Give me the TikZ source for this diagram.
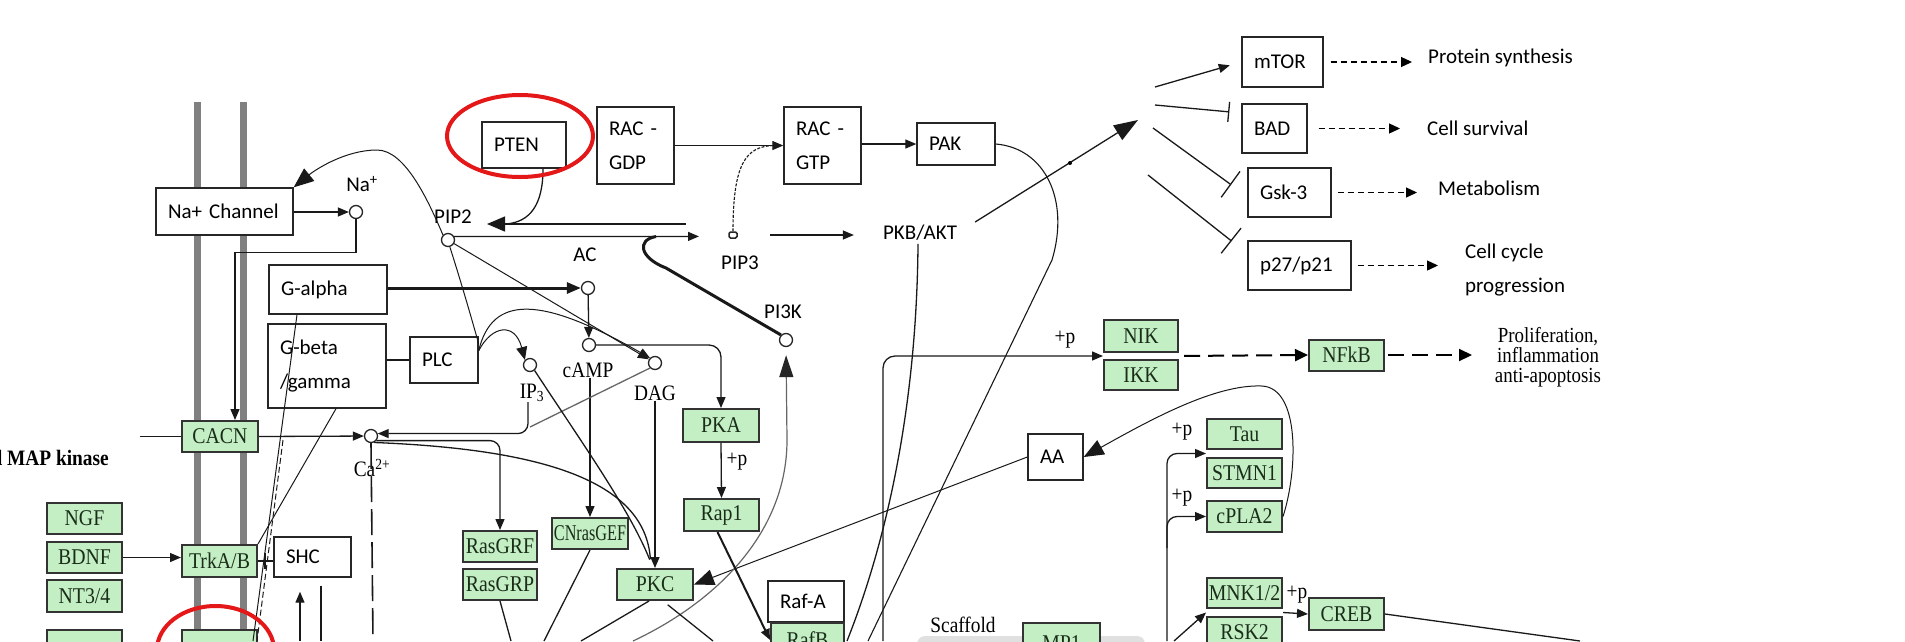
\documentclass[tikz,border=0pt]{standalone}
\usepackage{fontspec}
\usepackage{graphicx}
\usetikzlibrary{arrows.meta,calc}
\newfontfamily\calf{Carlito}
\newfontfamily\keggf[FakeStretch=0.88]{Liberation Serif}
\definecolor{kgreen}{RGB}{196,238,196}
\definecolor{ktext}{RGB}{25,45,25}
\definecolor{membrane}{RGB}{128,128,128}
\definecolor{ring}{RGB}{228,24,24}
\tikzset{
  sansbox/.style={draw=black!85, line width=1.4pt, fill=white,
    font=\calf\fontsize{21}{34}\selectfont,
    inner xsep=12pt, inner ysep=0pt, align=left},
  wb/.style 2 args={sansbox, text width=#1pt, minimum height=#2pt},
  gbox/.style={draw=black!80, line width=2pt, fill=kgreen, text=ktext,
    font=\keggf\fontsize{22.5}{24}\selectfont, inner sep=0pt},
  gb/.style 2 args={gbox, minimum width=#1pt, minimum height=#2pt},
  mol/.style={circle, draw=black!85, line width=1.3pt, fill=white, minimum size=13pt, inner sep=0pt},
  slabel/.style={font=\calf\fontsize{21}{24}\selectfont, inner sep=0pt},
  rlabel/.style={font=\keggf\fontsize{22}{24}\selectfont, inner sep=0pt},
  link/.style={line width=1.3pt, draw=black!90},
  arr/.style={link, -{Triangle[length=11pt,width=9pt]}},
  bigarr/.style={link, -{Triangle[length=18pt,width=15pt]}},
  heavy/.style={line width=3pt},
  darr/.style={line width=1.3pt, dash pattern=on 6pt off 4pt, -{Triangle[length=11pt,width=10pt]}},
  ldarr/.style={line width=2pt, dash pattern=on 16pt off 8pt, -{Triangle[length=13pt,width=12pt]}},
  outtext/.style={font=\calf\fontsize{21}{34}\selectfont, inner sep=0pt, anchor=west, align=left}
}
\begin{document}
\begin{tikzpicture}[x=1pt,y=-1pt]
\useasboundingbox (0,0) rectangle (1905,641);
\fill[white] (0,0) rectangle (1905,641);

% plasma membrane
\fill[membrane] (194,102) rectangle (201,641);
\fill[membrane] (240,102) rectangle (247,641);
% scaffold complex
\fill[black!12, rounded corners=8pt] (917,636) rectangle (1145,690);

% ---- plain boxes (text width = box width - 24)
\node[wb={113}{47}] (nach) at (224.5,211.5) {\mbox{Na+ Channel}};
\node[wb={60}{46}] (pten) at (524,145) {PTEN};
\node[wb={53}{77}] (racgdp) at (635.5,145.5) {RAC -\\GDP};
\node[wb={53}{77}] (racgtp) at (822.5,145.5) {RAC -\\GTP};
\node[wb={54}{42}] (pak) at (956,144) {PAK};
\node[wb={94}{49}] (galpha) at (328,289.5) {G-alpha};
\node[wb={94}{84}] (gbeta) at (327,366) {G-beta\\/gamma};
\node[wb={44}{46}] (plc) at (444,360) {PLC};
\node[wb={53}{40}] (shc) at (312.5,557) {SHC};
\node[wb={52}{41}] (rafa) at (806,601.5) {Raf-A};
\node[wb={31}{46}] (aa) at (1055.5,457) {AA};
\node[wb={57}{50}] (mtor) at (1282.5,62) {mTOR};
\node[wb={41}{49}] (bad) at (1274.5,128.5) {BAD};
\node[wb={59}{49}] (gsk) at (1289.5,192.5) {Gsk-3};
\node[wb={79}{49}] (p27) at (1299.5,265.5) {p27/p21};

% ---- gene products
\node[gb={76}{31}] (cacn) at (220,436.5) {CACN};
\node[gb={75}{31}] (ngf) at (84.5,518.5) {NGF};
\node[gb={75}{31}] (bdnf) at (84.5,557.5) {BDNF};
\node[gb={75}{32}] (nt) at (84.5,596) {NT3/4};
\node[gb={75}{32}] (gx) at (84.5,646) {};
\node[gb={75}{32}] (trka) at (219.5,561) {TrkA/B};
\node[gb={75}{32}] (rx) at (219.5,646) {};
\node[gb={74}{31}] (rasgrf) at (500,546.5) {RasGRF};
\node[gb={74}{31}] (rasgrp) at (500,584.5) {RasGRP};
\node[gb={76}{31}] (cnras) at (590,533.5) {\scalebox{0.82}[1]{CNrasGEF}};
\node[gb={76}{31}] (pkc) at (655,584.5) {PKC};
\node[gb={76}{33}] (pka) at (721,425.5) {PKA};
\node[gb={75}{32}] (rap1) at (721.5,515) {Rap1};
\node[gb={73}{34}] (rafb) at (807.5,640) {RafB};
\node[gb={74}{32}] (nik) at (1141,336) {NIK};
\node[gb={74}{30}] (ikk) at (1141,375) {IKK};
\node[gb={75}{31}] (nfkb) at (1346.5,355) {NFkB};
\node[gb={75}{30}] (tau) at (1244.5,434) {Tau};
\node[gb={75}{30}] (stmn) at (1244.5,473) {STMN1};
\node[gb={75}{31}] (cpla) at (1244.5,516.5) {cPLA2};
\node[gb={75}{30}] (mnk) at (1244.5,593) {MNK1/2};
\node[gb={75}{30}] (rsk) at (1244.5,632) {RSK2};
\node[gb={75}{32}] (creb) at (1346.5,614) {CREB};
\node[gb={77}{40}] (mp1) at (1061.5,643) {MP1};

% ---- small molecules
\node[mol] (na) at (356,212) {};
\node[mol] (pip2) at (448,240) {};
\node[mol] (ac) at (588,288) {};
\node[mol] (camp) at (589,345) {};
\node[mol] (ip3) at (530,365) {};
\node[mol] (dag) at (655,363) {};
\node[mol] (pi3k) at (786,340) {};
\node[mol] (ca) at (371,436) {};
\node[draw=black!85, line width=1.5pt, rounded corners=1.5pt, fill=white,
  minimum width=8pt, minimum height=6pt, inner sep=0pt] (pip3) at (733,235) {};

% ---- labels
\node[slabel] (nalbl) at (362,184) {Na\textsuperscript{+}};
\node[slabel] (pip2lbl) at (453,217) {PIP2};
\node[slabel] (aclbl) at (585,255) {AC};
\node[slabel] (pip3lbl) at (740,263) {PIP3};
\node[slabel, inner xsep=29pt] (pkb) at (920,233) {PKB/AKT};
\node[slabel] (pi3klbl) at (783,312) {PI3K};
\node[rlabel] (camplbl) at (588,370) {cAMP};
\node[rlabel] (ip3lbl) at (532,393) {IP\textsubscript{3}};
\node[rlabel] (daglbl) at (655,393) {DAG};
\node[rlabel] (calbl) at (372,468) {Ca\textsuperscript{2+}};
\node[rlabel] (pp1) at (737,462) {+p};
\node[rlabel] (pp2) at (1065,340) {+p};
\node[rlabel] (pp3) at (1182,432) {+p};
\node[rlabel] (pp4) at (1182,498) {+p};
\node[rlabel] (pp5) at (1297,595) {+p};
\node[rlabel] (scaf) at (963,625) {Scaffold};
\node[rlabel, font=\keggf\bfseries\fontsize{22}{24}\selectfont, anchor=east] (mapk) at (109,458) {d MAP kinase};
\node[outtext] (ps) at (1428,58) {Protein synthesis};
\node[outtext] (cs) at (1427,128) {Cell survival};
\node[outtext] (mb) at (1438,188) {Metabolism};
\node[outtext] (cc) at (1465,270) {Cell cycle\\progression};
\node[font=\keggf\fontsize{21.5}{20}\selectfont, align=center, inner sep=0pt] (prolif) at (1548,357)
  {Proliferation,\\inflammation\\anti-apoptosis};

% ---- free ends
\coordinate (cacnin) at (140,436.5);
\coordinate (pip3back) at (686,224);
\coordinate (pip2tip) at (487,224);
\coordinate (ptenjoin) at (506,224);
\coordinate (pip3stop) at (699,236.4);
\coordinate (pip3out) at (770,235);
\coordinate (pakend) at (868,641);
\coordinate (akttip) at (1138,120);
\coordinate (f1) at (1155,87);
\coordinate (f2) at (1155,105);
\coordinate (f3) at (1153,128);
\coordinate (f4) at (1148,175);
\coordinate (nikbot) at (883,641);
\coordinate (nfout) at (1472,355);
\coordinate (taubot) at (1167,641);
\coordinate (cplafork) at (1167,548);
\coordinate (ip3join) at (530,427);
\coordinate (hookstart) at (656,236.5);
\coordinate (pi3kbot) at (633,641);
\coordinate (grpout) at (511,641);
\coordinate (gefout) at (544,641);
\coordinate (pkcout) at (581,641);
\coordinate (pkcout2) at (713,641);
\coordinate (pkbend) at (847,641);
\coordinate (lb1) at (253,641);
\coordinate (dsh1) at (283,440);
\coordinate (dsh2) at (257,641);
\coordinate (shcin) at (300,641);
\coordinate (shcout) at (321,641);
\coordinate (cabot) at (373,641);
\coordinate (rskin) at (1174,641);
\coordinate (crebout) at (1580,641);

% ---- membrane and second messengers
\draw[arr] (nach.east |- na) -- (na);
\draw[arr] (na.south) -- ++(0,33.5) -| ([xshift=15pt]cacn.north);
\draw[link] (cacnin) -- (cacn.west);
\draw[arr] (cacn.east) -- (ca);
\draw[link, heavy, -{Triangle[length=14pt,width=11pt]}] (galpha.east |- ac) -- (ac);
\draw[link] (gbeta.east |- plc) -- (plc.west);
\draw[bigarr] (pip3back) -- (pip2tip);
\draw[link] ([xshift=19pt]pten.south) .. controls (543,205) and (530,222) .. (ptenjoin);
\draw[arr] (pip2.30) -- (pip3stop);
\draw[arr] (pip3out) -- (pip3out -| pkb.west);
\draw[link, line width=1.1pt, dash pattern=on 3pt off 1.5pt] (pip3.north)
  .. controls (733,165) and (745,146) .. ([xshift=-9pt]racgtp.west);
\draw[arr] (racgdp.east) -- (racgtp.west);
\draw[arr] (racgtp.east |- pak) -- (pak.west);
\draw[link, line width=1.1pt] (pak.east) .. controls (1045,148) and (1070,200) .. (1052,260) -- (pakend);
\draw[link, -{Triangle[length=24pt,width=17pt]}] ($(pkb.east)+(-11,-11)$) -- (akttip);
\fill (1070,163) circle (2pt);

% ---- AKT targets
\draw[arr, shorten >=12pt] (f1) -- (mtor.west);
\draw[link, -{Bar[width=20pt]}, shorten >=12pt] (f2) -- ($(bad.west)+(0,-15.5)$);
\draw[link, -{Bar[width=32pt]}, shorten >=20pt] (f3) -- ($(gsk.west)+(0,4)$);
\draw[link, -{Bar[width=32pt]}, shorten >=20pt] (f4) -- ($(p27.west)+(0,-12)$);
\draw[darr, shorten <=7pt, shorten >=16pt] (mtor.east) -- (mtor.east -| ps.west);
\draw[darr, shorten <=11pt, shorten >=27pt] (bad.east) -- (bad.east -| cs.west);
\draw[darr, shorten <=6pt, shorten >=21pt] (gsk.east) -- (gsk.east -| mb.west);
\draw[darr, shorten <=6pt, shorten >=27pt] (p27.east) -- (p27.east -| cc.west);

% ---- NF-kB branch
\draw[arr, rounded corners=12pt] (nikbot) |- ($(nik.south west)!0.5!(ikk.north west)$);
\draw[ldarr, shorten <=5pt] ($(nik.south east)!0.5!(ikk.north east)$) -- (nfkb.west);
\draw[ldarr, shorten <=3pt] (nfkb.east) -- (nfout);

% ---- Tau / cPLA2 / CREB
\draw[arr, rounded corners=10pt] (taubot) |- ($(tau.south west)!0.5!(stmn.north west)$);
\draw[arr, rounded corners=10pt] (cplafork) |- (cpla.west);
\draw[link, line width=1pt, -{Triangle[length=20pt,width=16pt]}] (cpla.east)
  .. controls (1298,470) and (1300,388) .. (1262,386)
  .. controls (1215,384) and (1150,420) .. (aa.east);
\draw[link, line width=1pt, -{Triangle[length=20pt,width=16pt]}] (aa.west) -- (pkc.east);
\draw[arr] ($(mnk.south east)!0.5!(rsk.north east)$) -- (creb.west);
\draw[arr] (rskin) -- ($(mnk.south west)!0.5!(rsk.north west)$);
\draw[link] (creb.east) -- (crebout);

% ---- cAMP, IP3, DAG
\draw[arr] (ac) -- (camp);
\draw[arr, rounded corners=12pt] (camp.east) -| (pka.north);
\draw[arr] (cnras.north |- camplbl.south) -- (cnras.north);
\draw[arr] (pkc.north |- daglbl.south) -- (pkc.north);
\draw[arr, rounded corners=10pt] ($(ip3lbl.south)+(-4,0)$) |- (ca.20);
\draw[link, draw=black!60] (dag.south west) -- (ip3join);
\draw[arr, rounded corners=10pt] (ca.-40) -| (rasgrf.north);
\draw[link, shorten >=9pt] (ca.-65) .. controls (540,449) and (645,480) .. ([xshift=-4pt]pkc.north);
\draw[link, shorten >=9pt] (ip3.-50) .. controls (580,440) and (630,510) .. ([xshift=-2pt]pkc.north);
\draw[arr, line width=1pt] (pip2) -- (dag);
\draw[link, line width=1pt] (pip2.-75) .. controls (462,285) and (472,320) .. (plc.25);
\draw[link, line width=1pt, -{Triangle[length=20pt,width=16pt]}] (pip2.135)
  .. controls (428,200) and (405,150) .. (377,150)
  .. controls (345,150) and (315,170) .. (nach.north east);
\draw[link, line width=1pt, -{Triangle[length=13pt,width=11pt]}] (plc.15)
  .. controls (492,325) and (515,322) .. (ip3.north west);
\draw[link, line width=1pt, -{Triangle[length=11pt,width=9pt]}] (plc.15)
  .. controls (492,295) and (540,295) .. (dag.north west);
\draw[link, line width=3pt] (hookstart) .. controls (636,240) and (640,258) .. (666,268) -- (pi3k.north west);
\draw[link, draw=black!60, line width=1.2pt, -{Triangle[length=22pt,width=14pt,color=black!85]}, shorten >=8pt]
  (pi3kbot) .. controls (720,600) and (787,530) .. (787,440) -- (pi3k.south);
\draw[arr] (pka.south) -- (rap1.north);
\draw[link, line width=2pt, -{Triangle[length=11pt,width=9pt]}] ([xshift=-4pt]rap1.south) -- (rafb.west);

% ---- lower branches
\draw[link] (rasgrp.south) -- (grpout);
\draw[link] (cnras.south) -- (gefout);
\draw[link] ([xshift=-6pt]pkc.south) -- (pkcout);
\draw[link, shorten <=6pt] ([xshift=8pt]pkc.south) -- (pkcout2);
\draw[link] ($(pkb.south)+(-2,3)$) .. controls (917,380) and (895,520) .. (pkbend);

% ---- receptor region
\draw[link, line width=1pt] ([xshift=-31pt]galpha.south) -- (lb1);
\draw[link, line width=1pt] ([xshift=9pt]gbeta.south) -- (trka.north east);
\draw[link, line width=1pt, dash pattern=on 6pt off 3pt] (dsh1) -- (dsh2);
\draw[link] (trka.east) -- (shc.west |- trka.east);
\draw[link] ($(trka.east)+(7,-8)$) -- ($(trka.east)+(7,8)$);
\draw[arr] (shcin) -- ($(shc.south)+(-12.5,14)$);
\draw[link] ($(shc.south)+(8.5,8)$) -- (shcout);
\draw[link, line width=1.6pt, dash pattern=on 26pt off 7pt] (ca.south) -- (cabot);
\draw[arr] (bdnf.east) -- (bdnf.east -| trka.west);

% ---- highlights
\draw[ring, line width=4pt] (520,136) ellipse [x radius=73pt, y radius=41pt];
\draw[ring, line width=4pt] (215.5,650) ellipse [x radius=58.5pt, y radius=44pt];
\end{tikzpicture}
\end{document}
